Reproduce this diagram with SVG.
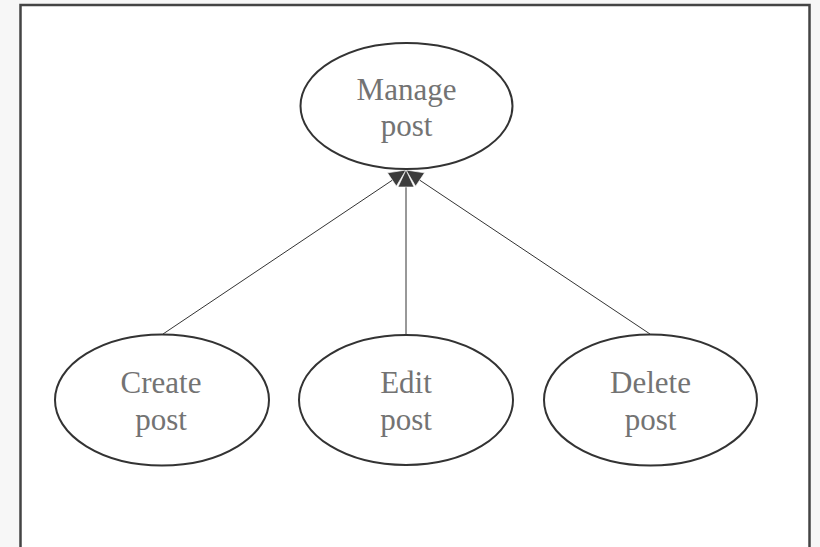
<svg xmlns="http://www.w3.org/2000/svg" width="820" height="547" viewBox="0 0 820 547">
<style>
.uc{fill:#ffffff;stroke:#333333;stroke-width:2}
.lbl{font-family:"Liberation Serif","Times New Roman",serif;font-size:31px;fill:#737373;text-anchor:middle}
.ln{stroke:#333333;stroke-width:1;fill:none}
.ah{fill:#3c3c3c;stroke:#ffffff;stroke-width:0.6}
</style>
<rect x="0" y="0" width="820" height="547" fill="#f7f7f7"/>
<rect x="20.5" y="5" width="789" height="560" fill="#ffffff" stroke="#444444" stroke-width="2.5"/>
<g id="connectors">
<line class="ln" x1="163" y1="334" x2="406" y2="171"/>
<line class="ln" x1="406" y1="335" x2="406" y2="171"/>
<line class="ln" x1="650" y1="334" x2="406" y2="171"/>
<polygon class="ah" points="406,170 398,187 414,187" transform="rotate(-56 406 170)"/>
<polygon class="ah" points="406,170 398,187 414,187" transform="rotate(56 406 170)"/>
<polygon class="ah" points="406,170 398,187 414,187"/>
</g>
<g id="manage">
<ellipse class="uc" cx="406.5" cy="106" rx="106" ry="63"/>
<text class="lbl" x="406.5" y="100">Manage</text>
<text class="lbl" x="406.5" y="136">post</text>
</g>
<g id="create">
<ellipse class="uc" cx="162" cy="400" rx="107" ry="65.5"/>
<text class="lbl" x="161" y="393">Create</text>
<text class="lbl" x="161" y="430">post</text>
</g>
<g id="edit">
<ellipse class="uc" cx="406" cy="400" rx="107" ry="65"/>
<text class="lbl" x="406" y="393">Edit</text>
<text class="lbl" x="406" y="430">post</text>
</g>
<g id="delete">
<ellipse class="uc" cx="650.5" cy="400" rx="106.5" ry="65.5"/>
<text class="lbl" x="650.5" y="393">Delete</text>
<text class="lbl" x="650.5" y="430">post</text>
</g>
</svg>
